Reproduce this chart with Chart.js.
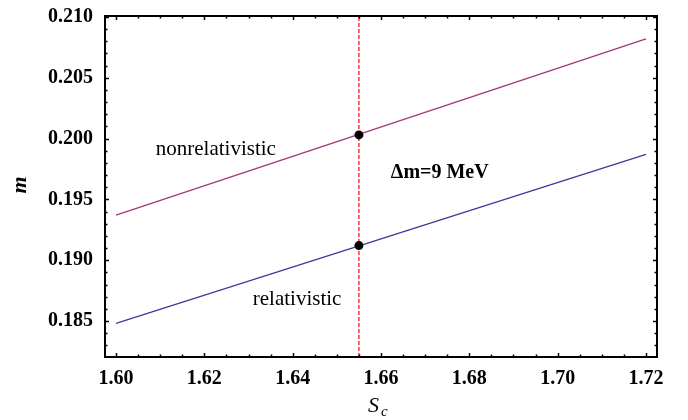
<!DOCTYPE html>
<html>
<head>
<meta charset="utf-8">
<script src="https://cdn.jsdelivr.net/npm/chart.js@4/dist/chart.umd.min.js"></script>
<style>
  html, body { margin: 0; padding: 0; background: #fff; }
  #wrap { width: 688px; height: 420px; }
</style>
</head>
<body>
<div id="wrap"><canvas id="c" width="688" height="420"></canvas></div>
<script>
// ---- data ----
const xTicks = [1.60, 1.62, 1.64, 1.66, 1.68, 1.70, 1.72];
const yTicks = [0.185, 0.190, 0.195, 0.200, 0.205, 0.210];
const lineX = [1.60, 1.72];
const nonrelativisticM = [0.1937, 0.2082];
const relativisticM = [0.1848, 0.1987];
const markX = 1.655;
const markM = [0.2003, 0.1912];
const xRange = [1.5975, 1.7225];
const yRange = [0.18204, 0.21008];

const SERIF = '"Liberation Serif", "DejaVu Serif", serif';

const framePlugin = {
  id: 'frame',
  afterDatasetsDraw(chart) {
    const {ctx, chartArea: a, scales: {x, y}} = chart;
    ctx.save();
    ctx.strokeStyle = '#000';
    // ticks (inside, on all four sides)
    ctx.lineWidth = 1.5;
    const xi = [];
    for (let v = 1.60; v <= 1.72 + 1e-9; v += 0.005) xi.push(+v.toFixed(3));
    xi.forEach((v, i) => {
      const p = Math.round(x.getPixelForValue(v)) + 0.5;
      const len = (i % 4 === 0) ? 4 : 2.5;
      ctx.beginPath();
      ctx.moveTo(p, a.bottom); ctx.lineTo(p, a.bottom - len);
      ctx.moveTo(p, a.top); ctx.lineTo(p, a.top + len);
      ctx.stroke();
    });
    const yi = [];
    for (let v = 0.183; v <= 0.210 + 1e-9; v += 0.001) yi.push(+v.toFixed(3));
    yi.forEach(v => {
      const p = Math.round(y.getPixelForValue(v)) + 0.5;
      const major = Math.abs(Math.round(v * 200) - v * 200) < 1e-6;
      const len = major ? 4 : 2.5;
      ctx.beginPath();
      ctx.moveTo(a.left, p); ctx.lineTo(a.left + len, p);
      ctx.moveTo(a.right, p); ctx.lineTo(a.right - len, p);
      ctx.stroke();
    });
    // frame
    ctx.lineWidth = 2;
    ctx.strokeRect(a.left, a.top, a.right - a.left, a.bottom - a.top);

    // annotations
    ctx.fillStyle = '#000';
    ctx.textAlign = 'center';
    ctx.textBaseline = 'middle';
    ctx.font = '21px ' + SERIF;
    ctx.fillText('nonrelativistic', x.getPixelForValue(1.6226), y.getPixelForValue(0.19914));
    ctx.fillText('relativistic', x.getPixelForValue(1.641), y.getPixelForValue(0.18681));
    ctx.font = 'bold 20px ' + SERIF;
    ctx.fillText('\u0394m=9 MeV', x.getPixelForValue(1.6733), y.getPixelForValue(0.19717));

    // axis titles
    ctx.font = 'italic bold 22px ' + SERIF;
    ctx.save();
    ctx.translate(20, 185);
    ctx.rotate(-Math.PI / 2);
    ctx.fillText('m', 0, 0);
    ctx.restore();
    ctx.textAlign = 'left';
    ctx.font = 'italic 22px ' + SERIF;
    ctx.fillText('S', 368, 406);
    ctx.font = 'italic 15px ' + SERIF;
    ctx.fillText('c', 381, 412);
    ctx.restore();
  }
};

new Chart(document.getElementById('c'), {
  type: 'scatter',
  data: {
    datasets: [
      {
        label: 'nonrelativistic',
        data: lineX.map((v, i) => ({x: v, y: nonrelativisticM[i]})),
        showLine: true, borderColor: '#9c3a78', borderWidth: 1.4,
        pointRadius: 0, fill: false, order: 2
      },
      {
        label: 'relativistic',
        data: lineX.map((v, i) => ({x: v, y: relativisticM[i]})),
        showLine: true, borderColor: '#3c3c9c', borderWidth: 1.4,
        pointRadius: 0, fill: false, order: 2
      },
      {
        label: 'cut',
        data: [{x: markX, y: yRange[0]}, {x: markX, y: yRange[1]}],
        showLine: true, borderColor: '#ff0000', borderWidth: 1.2,
        borderDash: [4, 2], pointRadius: 0, fill: false, order: 1
      },
      {
        label: 'points',
        data: markM.map(v => ({x: markX, y: v})),
        showLine: false, pointRadius: 4.5, pointBackgroundColor: '#000',
        pointBorderColor: '#000', pointBorderWidth: 0, order: 0
      }
    ]
  },
  options: {
    responsive: false,
    animation: false,
    devicePixelRatio: 1,
    layout: { padding: { top: 16, right: 31, left: 0, bottom: 0 } },
    plugins: { legend: { display: false }, tooltip: { enabled: false } },
    scales: {
      x: {
        type: 'linear', min: xRange[0], max: xRange[1],
        afterBuildTicks: s => { s.ticks = xTicks.map(v => ({value: v})); },
        afterFit: s => { s.height = 63; s.paddingLeft = 0; s.paddingRight = 0; },
        grid: { display: false, drawTicks: false },
        border: { display: false },
        ticks: {
          padding: 10, color: '#000',
          font: { family: SERIF, size: 20, weight: 'bold' },
          callback: v => v.toFixed(2)
        }
      },
      y: {
        type: 'linear', min: yRange[0], max: yRange[1],
        afterBuildTicks: s => { s.ticks = yTicks.map(v => ({value: v})); },
        afterFit: s => { s.width = 105; s.paddingTop = 0; s.paddingBottom = 0; },
        grid: { display: false, drawTicks: false },
        border: { display: false },
        ticks: {
          padding: 12, color: '#000',
          font: { family: SERIF, size: 20, weight: 'bold' },
          callback: v => v.toFixed(3)
        }
      }
    }
  },
  plugins: [framePlugin]
});
</script>
</body>
</html>
